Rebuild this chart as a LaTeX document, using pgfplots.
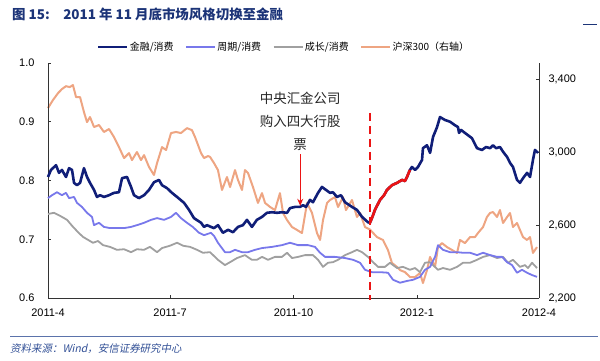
\documentclass[border=0pt]{standalone}
\usepackage{fontspec}
\setmainfont{Liberation Sans}
\newfontfamily\cjk{Noto Sans CJK SC}
\newfontfamily\cjkit[FakeSlant=0.2]{Noto Sans CJK SC}
\usepackage{pgfplots}
\pgfplotsset{compat=1.18}
\usetikzlibrary{arrows.meta}
\definecolor{navyc}{RGB}{16,30,120}
\definecolor{bluec}{RGB}{120,120,235}
\definecolor{grayc}{RGB}{160,160,160}
\definecolor{orangec}{RGB}{238,165,130}
\definecolor{redc}{RGB}{235,20,20}
\definecolor{titlec}{RGB}{28,52,120}
\definecolor{srcc}{RGB}{50,80,150}

\pgfplotstableread{
x y
0 0.806
2.2 0.818
6.0 0.826
8.2 0.813
10.4 0.818
13.4 0.806
15.7 0.821
17.9 0.818
19.4 0.796
21.6 0.792
23.9 0.796
26.8 0.821
29.1 0.806
31.3 0.796
34.3 0.784
36.5 0.772
38.8 0.775
41.7 0.772
45.5 0.775
49.2 0.779
52.9 0.780
55.2 0.804
58.9 0.806
61.9 0.789
64.1 0.775
67.8 0.770
71.6 0.775
75.3 0.784
79.0 0.797
82.7 0.801
85.0 0.792
88.7 0.787
92.4 0.779
96.2 0.772
101.4 0.762
105.1 0.750
108.8 0.736
114.1 0.728
116.3 0.721
118.5 0.724
121.5 0.721
123.7 0.719
126.7 0.724
130.4 0.711
134.2 0.716
137.9 0.712
141.6 0.721
145.3 0.724
148.3 0.733
152.0 0.721
155.7 0.733
159.5 0.738
163.2 0.745
167.0 0.746
170.7 0.745
174.4 0.746
178.2 0.745
180.4 0.753
184.1 0.755
187.8 0.755
190.1 0.758
192.3 0.755
195.3 0.767
197.5 0.763
201.3 0.779
204.2 0.789
207.2 0.784
210.2 0.779
212.4 0.780
215.4 0.772
218.4 0.775
221.4 0.763
226.6 0.755
230.3 0.750
234.1 0.738
238.5 0.729
240.0 0.728
242.3 0.741
243.7 0.750
247.5 0.767
250.5 0.775
252.7 0.784
256.4 0.792
260.2 0.796
263.9 0.801
266.1 0.799
267.6 0.806
269.8 0.818
271.3 0.823
273.6 0.818
275.8 0.823
278.8 0.835
279.5 0.855
282.5 0.860
284.8 0.847
287.0 0.874
290.0 0.891
292.2 0.908
295.9 0.903
299.7 0.900
303.4 0.894
305.6 0.891
306.4 0.881
307.9 0.886
310.8 0.881
313.1 0.877
316.0 0.872
319.8 0.855
323.5 0.852
326.5 0.857
329.5 0.855
331.7 0.860
334.0 0.855
336.9 0.857
339.2 0.849
342.2 0.840
344.4 0.830
346.6 0.823
349.6 0.801
351.8 0.796
354.1 0.804
357.1 0.813
359.3 0.806
361.5 0.835
363.0 0.852
365.3 0.847
}\finance

\pgfplotstableread{
x y
240.0 0.728
242.3 0.741
243.7 0.750
247.5 0.767
250.5 0.775
252.7 0.784
256.4 0.792
260.2 0.796
263.9 0.801
266.1 0.799
267.6 0.806
269.8 0.818
}\financered

\pgfplotstableread{
x y
0 0.770
3.0 0.775
6.7 0.780
10.4 0.775
13.4 0.779
15.7 0.770
19.4 0.772
21.6 0.762
25.3 0.755
29.1 0.745
32.8 0.738
34.3 0.724
38.0 0.728
41.7 0.721
46.2 0.719
51.4 0.719
56.7 0.719
61.9 0.721
66.3 0.724
71.6 0.728
76.8 0.733
81.3 0.736
86.5 0.733
91.7 0.738
95.4 0.745
99.1 0.736
103.6 0.728
107.9 0.721
112.6 0.711
116.3 0.707
121.5 0.711
123.7 0.706
126.7 0.694
131.9 0.678
135.7 0.678
139.4 0.682
144.6 0.678
149.1 0.678
154.3 0.682
159.5 0.685
167.0 0.687
174.4 0.690
180.4 0.694
186.4 0.690
193.8 0.690
199.0 0.687
202.8 0.677
206.5 0.670
213.9 0.670
221.4 0.668
227.4 0.665
232.6 0.660
236.3 0.648
241.5 0.644
247.5 0.644
253.4 0.643
257.2 0.631
262.4 0.626
267.6 0.629
272.1 0.631
277.3 0.636
281.0 0.648
284.8 0.653
288.5 0.670
290.7 0.690
294.4 0.682
299.7 0.678
304.9 0.678
309.4 0.677
314.6 0.677
319.8 0.673
324.3 0.677
329.5 0.673
334.7 0.670
338.4 0.670
342.2 0.661
345.9 0.656
349.6 0.643
353.3 0.648
357.1 0.643
360.8 0.639
364.5 0.636
}\cyclical

\pgfplotstableread{
x y
0 0.743
4.5 0.745
8.9 0.740
14.2 0.733
17.9 0.723
22.4 0.712
26.1 0.704
29.8 0.699
33.5 0.694
37.3 0.697
41.0 0.690
46.2 0.687
51.4 0.682
56.7 0.683
61.9 0.678
66.3 0.683
71.6 0.682
76.0 0.687
81.3 0.678
85.0 0.685
90.9 0.689
96.2 0.694
100.6 0.689
105.9 0.687
111.1 0.682
115.5 0.677
120.8 0.678
126.7 0.665
131.9 0.656
135.7 0.661
140.9 0.668
146.8 0.673
152.0 0.665
155.7 0.665
159.5 0.670
164.0 0.665
169.2 0.670
174.4 0.670
178.2 0.677
181.9 0.668
186.4 0.670
191.6 0.673
197.5 0.673
201.3 0.665
205.0 0.653
208.7 0.660
212.4 0.661
216.2 0.665
221.4 0.673
226.6 0.678
230.3 0.682
234.1 0.678
238.5 0.670
242.3 0.661
246.0 0.653
251.2 0.653
254.9 0.660
260.2 0.651
264.6 0.653
269.8 0.648
273.6 0.651
277.3 0.644
281.0 0.660
284.8 0.661
287.0 0.656
290.7 0.648
294.4 0.651
299.7 0.648
304.9 0.653
309.4 0.660
314.6 0.660
319.8 0.665
324.3 0.670
329.5 0.673
334.7 0.668
339.2 0.670
342.9 0.660
346.6 0.665
351.8 0.653
355.6 0.656
357.8 0.651
360.8 0.660
364.5 0.651
}\growth

\pgfplotstableread{
x y
0 3241
3.7 3285
7.5 3323
10.4 3345
13.4 3361
16.2 3356
18.6 3367
20.9 3301
23.9 3301
26.8 3219
29.1 3164
31.3 3192
34.3 3137
38.0 3148
41.7 3110
45.5 3126
49.2 3082
52.9 3027
56.7 2967
60.4 2994
62.6 2956
66.3 3000
69.3 2956
71.6 2983
75.3 2918
79.0 2874
81.3 2940
85.0 3027
88.0 3011
91.7 3104
95.4 3110
99.1 3104
103.6 3131
107.3 3120
109.6 3082
114.1 2994
116.3 2967
119.3 2978
120.8 2973
123.7 2940
126.7 2901
129.7 2792
133.4 2863
135.7 2808
139.4 2901
141.6 2847
144.6 2792
146.8 2901
149.1 2885
152.8 2808
156.5 2721
159.5 2775
161.8 2721
165.5 2699
169.2 2682
172.9 2775
175.2 2666
178.2 2627
181.9 2589
185.6 2573
189.3 2556
193.1 2721
196.8 2666
200.5 2556
202.8 2518
205.0 2627
208.0 2721
210.2 2737
213.9 2753
216.2 2699
219.9 2753
222.1 2682
226.6 2737
230.3 2644
232.6 2666
236.3 2589
240.0 2575
245.2 2534
249.7 2518
253.4 2463
256.4 2392
260.2 2370
262.4 2353
266.1 2342
269.8 2315
273.6 2315
277.3 2337
279.5 2282
282.5 2353
284.8 2425
287.0 2392
288.5 2370
290.7 2479
293.7 2501
297.4 2479
301.2 2463
304.9 2447
307.1 2518
310.8 2501
314.6 2534
318.3 2534
320.5 2556
324.3 2589
327.2 2644
329.5 2666
331.7 2671
334.7 2644
336.9 2682
339.2 2611
342.2 2644
344.4 2666
346.6 2589
349.6 2611
351.8 2573
354.1 2534
357.1 2518
359.3 2534
361.5 2447
364.5 2479
}\hsthree

\begin{document}
\begin{tikzpicture}
\path[use as bounding box] (0bp,0bp) rectangle (600bp,361bp);
\node[anchor=west, text=titlec, font=\cjk\bfseries\fontsize{13.5}{16}\selectfont, inner sep=0pt] at (12bp,346.5bp) {图 15:\hspace{1em}2011 年 11 月底市场风格切换至金融};
\draw[titlec, line width=1bp] (583bp,336bp) -- (597bp,336bp);

\pgfplotsset{common/.style={
  at={(48bp,63bp)}, anchor=south west, scale only axis,
  width=491bp, height=235bp, xmin=0, xmax=366,
  axis line style={-, black!80, line width=0.7bp},
  tick style={black!80, line width=0.6bp},
  tick align=inside, major tick length=3bp,
  tick label style={font=\fontsize{11}{13}\selectfont},
  /pgf/number format/assume math mode=true,
  clip=false,
}}

\begin{axis}[common,
  ymin=2200, ymax=3488,
  axis x line=none, axis y line*=right,
  ytick={2200,2600,3000,3400},
  yticklabel style={xshift=6bp, /pgf/number format/.cd, 1000 sep={,}},
  legend columns=4,
  legend style={draw=none, fill=none, at={(0.48,1.068)}, anchor=center,
    font=\cjk\fontsize{10}{12}\selectfont,
    /tikz/every even column/.append style={column sep=10bp},
    nodes={inner sep=1.5bp}},
  legend image code/.code={\draw[#1] (0bp,0bp) -- (29bp,0bp);},
]
\addlegendimage{navyc, line width=2.6bp}
\addlegendentry{金融/消费}
\addlegendimage{bluec, line width=1.8bp}
\addlegendentry{周期/消费}
\addlegendimage{grayc, line width=1.8bp}
\addlegendentry{成长/消费}
\addplot[orangec, line width=2bp, line join=round] table[x=x,y=y] {\hsthree};
\addlegendentry{沪深300（右轴）}
\end{axis}

\begin{axis}[common,
  ymin=0.6, ymax=1.0,
  axis x line*=bottom, axis y line*=left,
  xtick={0,91,183,275,366},
  xticklabels={2011-4,2011-7,2011-10,2012-1,2012-4},
  xticklabel style={yshift=-7bp},
  ytick={0.6,0.7,0.8,0.9,1.0},
  yticklabel style={xshift=-10bp, /pgf/number format/.cd, fixed, fixed zerofill, precision=1},
]
\addplot[grayc, line width=1.8bp, line join=round] table[x=x,y=y] {\growth};
\addplot[bluec, line width=1.8bp, line join=round] table[x=x,y=y] {\cyclical};
\addplot[navyc, line width=2.6bp, line join=round] table[x=x,y=y] {\finance};
\addplot[redc, line width=2.6bp, line join=round] table[x=x,y=y] {\financered};
\draw[redc, line width=2.8bp, dash pattern=on 8bp off 5bp] (axis cs:240,0.915) -- (axis cs:240,0.596);
\node[font=\cjk\fontsize{13.5}{23}\selectfont, align=center, text=black!85] at (axis cs:188,0.901) {中央汇金公司\\购入四大行股\\票};
\draw[redc, line width=1bp, -{Stealth[length=7bp,width=6bp]}] (axis cs:188,0.845) -- (axis cs:188,0.757);
\end{axis}

\draw[srcc!80, line width=0.8bp] (10bp,25bp) -- (598bp,25bp);
\node[anchor=west, text=srcc, font=\cjkit\fontsize{10.5}{12}\selectfont, inner sep=0pt] at (10bp,12bp) {资料来源：Wind，安信证券研究中心};
\end{tikzpicture}
\end{document}
